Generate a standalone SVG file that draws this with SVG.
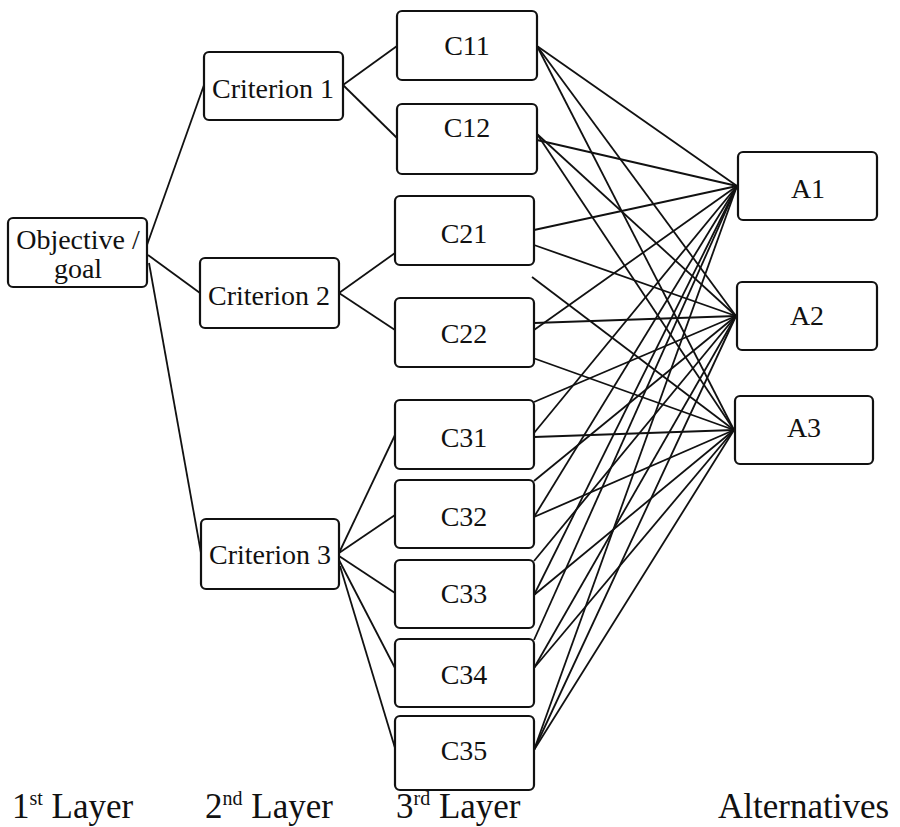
<svg xmlns="http://www.w3.org/2000/svg" width="900" height="827" viewBox="0 0 900 827">
<style>
.box{fill:#fff;stroke:#111;stroke-width:2.2}
.t{font-size:28px;fill:#111;text-anchor:middle}
.lbl{font-size:35px;fill:#111}
.sup{font-size:20px}
#connectors line{stroke:#111;stroke-width:1.8;fill:none}
</style>
<rect width="900" height="827" fill="#fff"/>
<g id="connectors">
<line x1="147" y1="245" x2="204" y2="85"/>
<line x1="148" y1="255" x2="200" y2="293"/>
<line x1="149" y1="263" x2="201" y2="553"/>
<line x1="343" y1="85" x2="397" y2="46"/>
<line x1="343" y1="85" x2="397" y2="138"/>
<line x1="339" y1="293" x2="395" y2="253"/>
<line x1="339" y1="293" x2="395" y2="330"/>
<line x1="339" y1="553" x2="395" y2="435"/>
<line x1="339" y1="553" x2="395" y2="515"/>
<line x1="339" y1="556" x2="395" y2="593"/>
<line x1="339" y1="560" x2="395" y2="668"/>
<line x1="340" y1="566" x2="395" y2="748"/>
<line x1="537" y1="46" x2="737" y2="186"/>
<line x1="537" y1="46" x2="736" y2="316"/>
<line x1="537" y1="46" x2="734" y2="430"/>
<line x1="537" y1="140" x2="737" y2="186"/>
<line x1="537" y1="134" x2="736" y2="316"/>
<line x1="537" y1="134" x2="734" y2="430"/>
<line x1="534" y1="230" x2="737" y2="186"/>
<line x1="534" y1="245" x2="736" y2="316"/>
<line x1="532" y1="277" x2="734" y2="430"/>
<line x1="534" y1="330" x2="737" y2="186"/>
<line x1="534" y1="323" x2="736" y2="316"/>
<line x1="533" y1="358" x2="734" y2="430"/>
<line x1="534" y1="433" x2="737" y2="186"/>
<line x1="534" y1="402" x2="736" y2="316"/>
<line x1="534" y1="437" x2="734" y2="430"/>
<line x1="534" y1="517" x2="737" y2="186"/>
<line x1="534" y1="481" x2="736" y2="316"/>
<line x1="534" y1="517" x2="734" y2="430"/>
<line x1="534" y1="595" x2="737" y2="186"/>
<line x1="534" y1="561" x2="736" y2="316"/>
<line x1="534" y1="595" x2="734" y2="430"/>
<line x1="534" y1="640" x2="737" y2="186"/>
<line x1="534" y1="668" x2="736" y2="316"/>
<line x1="534" y1="668" x2="734" y2="430"/>
<line x1="534" y1="750" x2="737" y2="186"/>
<line x1="534" y1="750" x2="736" y2="316"/>
<line x1="534" y1="750" x2="734" y2="430"/>
</g>
<g font-family="Liberation Serif, Tinos, Times New Roman, Noto Serif, DejaVu Serif, serif">
<g id="objective"><rect class="box" x="8" y="218" width="139" height="69" rx="5"/><text class="t" x="78" y="249">Objective /</text><text class="t" x="78" y="278">goal</text></g>
<g id="criterion1"><rect class="box" x="204" y="52" width="139" height="68" rx="5"/><text class="t" x="273" y="98">Criterion 1</text></g>
<g id="criterion2"><rect class="box" x="200" y="258" width="139" height="70" rx="5"/><text class="t" x="269" y="305">Criterion 2</text></g>
<g id="criterion3"><rect class="box" x="201" y="519" width="138" height="70" rx="5"/><text class="t" x="270" y="564">Criterion 3</text></g>
<g id="c11"><rect class="box" x="397" y="11" width="140" height="69" rx="5"/><text class="t" x="467" y="55">C11</text></g>
<g id="c12"><rect class="box" x="397" y="104" width="140" height="70" rx="5"/><text class="t" x="467" y="137">C12</text></g>
<g id="c21"><rect class="box" x="395" y="196" width="139" height="69" rx="5"/><text class="t" x="464" y="243">C21</text></g>
<g id="c22"><rect class="box" x="395" y="298" width="139" height="69" rx="5"/><text class="t" x="464" y="343">C22</text></g>
<g id="c31"><rect class="box" x="395" y="400" width="139" height="69" rx="5"/><text class="t" x="464" y="447">C31</text></g>
<g id="c32"><rect class="box" x="395" y="480" width="139" height="68" rx="5"/><text class="t" x="464" y="526">C32</text></g>
<g id="c33"><rect class="box" x="395" y="560" width="139" height="68" rx="5"/><text class="t" x="464" y="603">C33</text></g>
<g id="c34"><rect class="box" x="395" y="639" width="139" height="68" rx="5"/><text class="t" x="464" y="684">C34</text></g>
<g id="c35"><rect class="box" x="395" y="716" width="139" height="74" rx="5"/><text class="t" x="464" y="760">C35</text></g>
<g id="a1"><rect class="box" x="738" y="152" width="139" height="68" rx="5"/><text class="t" x="808" y="198">A1</text></g>
<g id="a2"><rect class="box" x="737" y="282" width="140" height="68" rx="5"/><text class="t" x="807" y="325">A2</text></g>
<g id="a3"><rect class="box" x="735" y="396" width="138" height="68" rx="5"/><text class="t" x="804" y="437">A3</text></g>
<g id="labels">
<text class="lbl" x="12" y="818">1<tspan class="sup" dy="-13">st</tspan><tspan dy="13"> Layer</tspan></text>
<text class="lbl" x="205" y="818">2<tspan class="sup" dy="-13">nd</tspan><tspan dy="13"> Layer</tspan></text>
<text class="lbl" x="396" y="818">3<tspan class="sup" dy="-13">rd</tspan><tspan dy="13"> Layer</tspan></text>
<text class="lbl" x="718" y="818">Alternatives</text>
</g>
</g>
</svg>
